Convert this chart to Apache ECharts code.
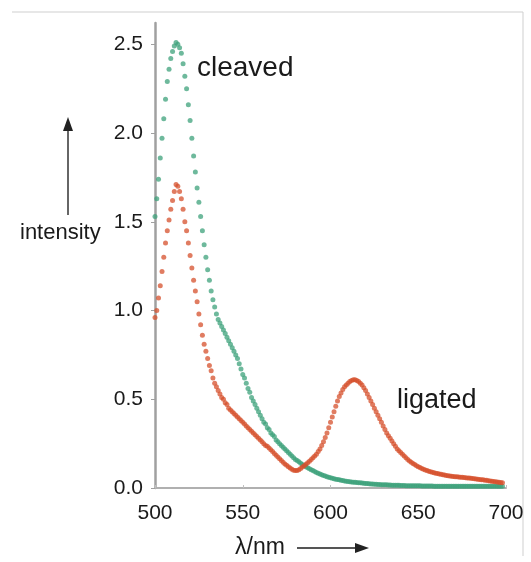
<!DOCTYPE html>
<html>
<head>
<meta charset="utf-8">
<script src="https://cdn.jsdelivr.net/npm/echarts@6/dist/echarts.min.js"></script>
<style>
  html, body { margin: 0; padding: 0; background: #fff; }
  #chart { width: 531px; height: 562px; }
</style>
</head>
<body>
<div id="chart"></div>
<script>
// spectra sampled every 1 nm starting at 500 nm
const startNm = 500;
const stepNm = 1;

const cleaved = [
  1.53, 1.63, 1.74, 1.86, 1.97, 2.08, 2.19, 2.29, 2.36, 2.42,
  2.46, 2.49, 2.51, 2.50, 2.48, 2.45, 2.39, 2.32, 2.25, 2.16,
  2.07, 1.97, 1.87, 1.78, 1.69, 1.61, 1.53, 1.45, 1.37, 1.30,
  1.23, 1.17, 1.11, 1.06, 1.02, 0.98, 0.95, 0.93, 0.91, 0.89,
  0.87, 0.85, 0.83, 0.81, 0.79, 0.77, 0.75, 0.73, 0.70, 0.67,
  0.64, 0.62, 0.59, 0.56, 0.54, 0.51, 0.49, 0.47, 0.45, 0.43,
  0.41, 0.39, 0.37, 0.36, 0.34, 0.33, 0.31, 0.30, 0.29, 0.27,
  0.26, 0.25, 0.24, 0.23, 0.22, 0.21, 0.20, 0.19, 0.18, 0.17,
  0.16, 0.155, 0.148, 0.14, 0.133, 0.127, 0.12, 0.114, 0.108, 0.103,
  0.098, 0.093, 0.088, 0.083, 0.079, 0.075, 0.071, 0.068, 0.064, 0.061,
  0.058, 0.055, 0.052, 0.05, 0.048, 0.046, 0.044, 0.042, 0.04, 0.038,
  0.036, 0.035, 0.034, 0.033, 0.032, 0.031, 0.03, 0.029, 0.028, 0.027,
  0.026, 0.025, 0.024, 0.023, 0.022, 0.021, 0.021, 0.02, 0.02, 0.019,
  0.019, 0.018, 0.018, 0.017, 0.017, 0.016, 0.016, 0.015, 0.015, 0.015,
  0.014, 0.014, 0.014, 0.013, 0.013, 0.013, 0.013, 0.012, 0.012, 0.012,
  0.012, 0.012, 0.011, 0.011, 0.011, 0.011, 0.011, 0.011, 0.011, 0.01,
  0.01, 0.01, 0.01, 0.01, 0.01, 0.01, 0.01, 0.01, 0.01, 0.01,
  0.01, 0.01, 0.01, 0.01, 0.01, 0.01, 0.01, 0.01, 0.01, 0.01,
  0.01, 0.01, 0.01, 0.01, 0.01, 0.01, 0.01, 0.01, 0.01, 0.01,
  0.01, 0.01, 0.01, 0.01, 0.01, 0.01, 0.01, 0.01, 0.01
];

const ligated = [
  0.96, 1.00, 1.07, 1.14, 1.22, 1.30, 1.38, 1.45, 1.51, 1.57,
  1.62, 1.67, 1.71, 1.70, 1.67, 1.63, 1.57, 1.50, 1.45, 1.38,
  1.31, 1.24, 1.17, 1.11, 1.05, 0.98, 0.92, 0.86, 0.81, 0.77,
  0.73, 0.69, 0.66, 0.62, 0.59, 0.57, 0.55, 0.53, 0.51, 0.50,
  0.48, 0.47, 0.45, 0.44, 0.43, 0.42, 0.41, 0.40, 0.39, 0.38,
  0.37, 0.36, 0.35, 0.34, 0.33, 0.32, 0.31, 0.30, 0.29, 0.28,
  0.27, 0.26, 0.25, 0.24, 0.235, 0.225, 0.215, 0.205, 0.195, 0.185,
  0.175, 0.165, 0.155, 0.145, 0.135, 0.128, 0.12, 0.113, 0.105, 0.10,
  0.098, 0.099, 0.103, 0.11, 0.118, 0.126, 0.134, 0.142, 0.151, 0.16,
  0.17, 0.18, 0.19, 0.205, 0.22, 0.24, 0.26, 0.285, 0.31, 0.34,
  0.37, 0.40, 0.43, 0.46, 0.49, 0.515, 0.535, 0.555, 0.57, 0.58,
  0.59, 0.60, 0.605, 0.61, 0.61, 0.605, 0.60, 0.59, 0.58, 0.565,
  0.55, 0.53, 0.51, 0.49, 0.47, 0.45, 0.43, 0.41, 0.39, 0.37,
  0.35, 0.33, 0.31, 0.295, 0.28, 0.265, 0.25, 0.235, 0.22, 0.21,
  0.20, 0.19, 0.18, 0.17, 0.16, 0.152, 0.145, 0.138, 0.132, 0.126,
  0.12, 0.115, 0.11, 0.106, 0.102, 0.098, 0.095, 0.092, 0.089, 0.086,
  0.083, 0.081, 0.079, 0.077, 0.075, 0.073, 0.071, 0.069, 0.067, 0.066,
  0.065, 0.064, 0.063, 0.062, 0.061, 0.06, 0.059, 0.058, 0.057, 0.056,
  0.055, 0.054, 0.052, 0.051, 0.05, 0.048, 0.047, 0.046, 0.044, 0.043,
  0.041, 0.04, 0.038, 0.037, 0.035, 0.034, 0.033, 0.031, 0.03
];

const xTicks = [500, 550, 600, 650, 700];
const yTicks = [0, 0.5, 1.0, 1.5, 2.0, 2.5];

const FONT = '"Liberation Sans", Arial, sans-serif';

function toPairs(arr) {
  return arr.map((v, i) => [startNm + i * stepNm, v]);
}

const chart = echarts.init(document.getElementById('chart'));

const option = {
  animation: false,
  backgroundColor: '#fff',
  grid: { left: 155, right: 25, top: 23, bottom: 74 },
  xAxis: {
    type: 'value',
    min: 500,
    max: 700,
    interval: 50,
    splitLine: { show: false },
    axisLine: { lineStyle: { color: '#b0b0b0', width: 2 } },
    axisTick: { inside: true, length: 3, lineStyle: { color: '#c0c0c0' } },
    axisLabel: {
      color: '#1a1a1a', fontSize: 21, fontFamily: FONT, margin: 15,
      customValues: xTicks
    }
  },
  yAxis: {
    type: 'value',
    min: 0,
    max: 2.62,
    splitLine: { show: false },
    axisLine: { show: true, lineStyle: { color: '#a0a0a0', width: 2.5 } },
    axisTick: { show: true, length: 4, customValues: yTicks, lineStyle: { color: '#a0a0a0' } },
    axisLabel: {
      color: '#1a1a1a', fontSize: 21, fontFamily: FONT, margin: 12,
      customValues: yTicks,
      formatter: v => v.toFixed(1)
    }
  },
  series: [
    {
      name: 'cleaved',
      type: 'scatter',
      symbolSize: 5,
      itemStyle: { color: '#3ea27b', opacity: 0.75 },
      data: toPairs(cleaved),
      z: 2
    },
    {
      name: 'ligated',
      type: 'scatter',
      symbolSize: 5,
      itemStyle: { color: '#d5502c', opacity: 0.75 },
      data: toPairs(ligated),
      z: 3
    }
  ],
  graphic: [
    // scan frame
    { type: 'polyline', shape: { points: [[12, 12], [523, 12], [523, 556]] },
      style: { stroke: '#cfcfcf', lineWidth: 1, fill: null }, silent: true },
    { type: 'text', style: { x: 197, y: 68, text: 'cleaved', font: '28px ' + FONT, fill: '#1a1a1a', textVerticalAlign: 'middle' } },
    { type: 'text', style: { x: 397, y: 401, text: 'ligated', font: '27px ' + FONT, fill: '#1a1a1a', textVerticalAlign: 'middle' } },
    { type: 'text', style: { x: 20, y: 233, text: 'intensity', font: '22px ' + FONT, fill: '#1a1a1a', textVerticalAlign: 'middle' } },
    { type: 'text', style: { x: 235, y: 548, text: 'λ/nm', font: '23px ' + FONT, fill: '#1a1a1a', textVerticalAlign: 'middle' } },
    // up arrow next to "intensity"
    { type: 'line', shape: { x1: 68, y1: 215, x2: 68, y2: 128 }, style: { stroke: '#666', lineWidth: 2 } },
    { type: 'polygon', shape: { points: [[68, 117], [63, 131], [73, 131]] }, style: { fill: '#222' } },
    // right arrow next to "λ/nm"
    { type: 'line', shape: { x1: 297, y1: 548, x2: 358, y2: 548 }, style: { stroke: '#555', lineWidth: 2 } },
    { type: 'polygon', shape: { points: [[369, 548], [355, 543], [355, 553]] }, style: { fill: '#222' } }
  ]
};

chart.setOption(option);
</script>
</body>
</html>
